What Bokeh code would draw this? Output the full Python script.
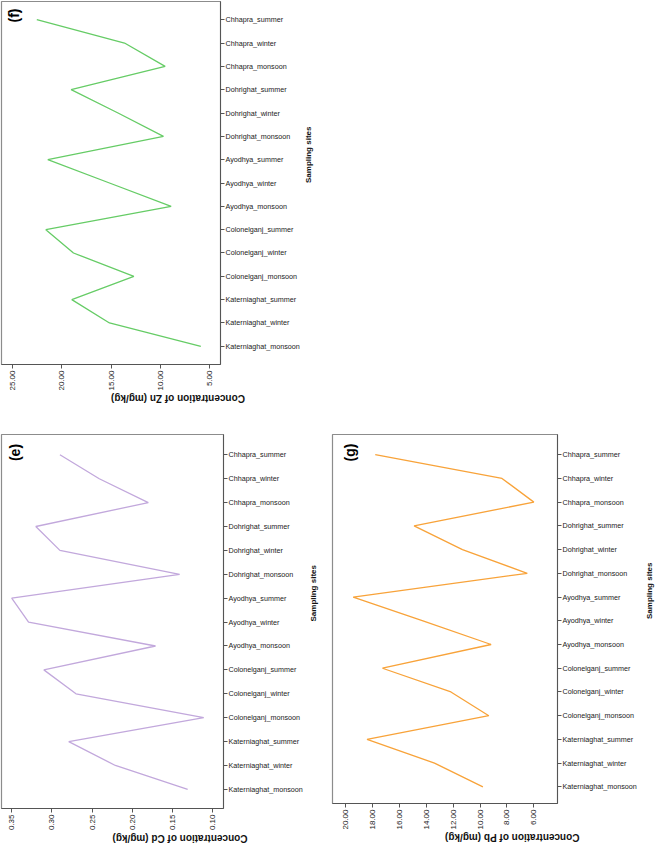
import math
from bokeh.plotting import figure
from bokeh.models import Range1d, FixedTicker, Label, PrintfTickFormatter
from bokeh.layouts import column, row
from bokeh.embed import file_html
from bokeh.resources import INLINE

sites = ["Chhapra_summer", "Chhapra_winter", "Chhapra_monsoon",
         "Dohrighat_summer", "Dohrighat_winter", "Dohrighat_monsoon",
         "Ayodhya_summer", "Ayodhya_winter", "Ayodhya_monsoon",
         "Colonelganj_summer", "Colonelganj_winter", "Colonelganj_monsoon",
         "Katerniaghat_summer", "Katerniaghat_winter", "Katerniaghat_monsoon"]

zn = [22.56, 13.64, 9.51, 19.07, 14.3, 9.68, 21.44, 15.17, 8.9,
      21.64, 18.83, 12.69, 19.0, 15.17, 5.88]
cd = [0.290, 0.241, 0.180, 0.320, 0.290, 0.141, 0.350, 0.329, 0.171,
      0.310, 0.270, 0.111, 0.279, 0.221, 0.131]
pb = [17.80, 8.37, 6.00, 14.91, 11.31, 6.49, 19.44, 14.25, 9.18,
      17.26, 12.17, 9.35, 18.41, 13.39, 9.79]

zn_ticks = [25, 20, 15, 10, 5]
cd_ticks = [0.35, 0.30, 0.25, 0.20, 0.15, 0.10]
pb_ticks = [20, 18, 16, 14, 12, 10, 8, 6]

FONT = "Liberation Sans"


def panel(values, ticks, xr, yr, color, xlabel, tag, tagpos, fw, fh, mb, ystand):
    idx = list(range(1, len(sites) + 1))
    p = figure(frame_width=fw, frame_height=fh,
               x_range=Range1d(*xr), y_range=Range1d(*yr),
               y_axis_location="right",
               output_backend="svg", toolbar_location=None,
               min_border_left=mb[0], min_border_top=mb[1],
               min_border_right=mb[2], min_border_bottom=mb[3],
               background_fill_color="white", border_fill_color="white",
               outline_line_color="#8c8c8c", outline_line_width=1.2)
    p.grid.visible = False
    p.line(values, idx, line_color=color, line_width=1.3)

    xa = p.xaxis[0]
    xa.ticker = FixedTicker(ticks=ticks)
    xa.formatter = PrintfTickFormatter(format="%.2f")
    xa.major_label_orientation = math.pi / 2
    xa.major_label_text_font = FONT
    xa.major_label_text_font_size = "8px"
    xa.major_label_text_color = "#222222"
    xa.major_label_standoff = 2
    xa.major_tick_in = 0
    xa.major_tick_out = 4
    xa.minor_tick_in = 0
    xa.minor_tick_out = 0
    xa.axis_line_color = "#555555"
    xa.major_tick_line_color = "#555555"
    xa.axis_label = xlabel
    xa.axis_label_orientation = math.pi
    xa.axis_label_text_font = FONT
    xa.axis_label_text_font_style = "bold"
    xa.axis_label_text_font_size = "10px"
    xa.axis_label_text_color = "#111111"
    xa.axis_label_standoff = 5

    ya = p.yaxis[0]
    ya.ticker = FixedTicker(ticks=idx)
    ya.major_label_overrides = {i: s for i, s in zip(idx, sites)}
    ya.major_label_text_font = FONT
    ya.major_label_text_font_size = "7.2px"
    ya.major_label_text_color = "#222222"
    ya.major_label_standoff = 1
    ya.major_tick_in = 0
    ya.major_tick_out = 4
    ya.minor_tick_in = 0
    ya.minor_tick_out = 0
    ya.axis_line_color = "#555555"
    ya.major_tick_line_color = "#555555"
    ya.axis_label = "Sampling sites"
    ya.axis_label_orientation = math.pi / 2
    ya.axis_label_text_font = FONT
    ya.axis_label_text_font_style = "bold"
    ya.axis_label_text_font_size = "8px"
    ya.axis_label_text_color = "#111111"
    ya.axis_label_standoff = ystand

    px_per_x = fw / abs(xr[0] - xr[1])
    px_per_y = fh / abs(yr[0] - yr[1])
    sgn = 1 if xr[0] > xr[1] else -1
    lx = xr[0] - sgn * tagpos[0] / px_per_x
    ly = yr[1] + tagpos[1] / px_per_y
    p.add_layout(Label(x=lx, y=ly, text=tag, angle=math.pi / 2,
                       text_align="center", text_baseline="middle",
                       text_font=FONT, text_font_style="bold",
                       text_font_size="14px", text_color="#000000"))
    return p


pf = panel(zn, zn_ticks, (26.15, 3.88), (15.78, 0.22), "#66cc66",
           "Concentration of Zn (mg/kg)", "(f)", (12, 14),
           219, 363, (1, 1, 92, 42), 6)
pe = panel(cd, cd_ticks, (0.3627, 0.0864), (15.8, 0.15), "#c2a8dc",
           "Concentration of Cd (mg/kg)", "(e)", (13, 18),
           222, 374, (1, 22, 104, 36), 8)
pg = panel(pb, pb_ticks, (20.98, 4.24), (15.7, 0.15), "#f8a33a",
           "Concentration of Pb (mg/kg)", "(g)", (17, 18),
           225, 369, (5, 19, 92, 42), 10)

layout = column(pf, row(pe, pg))
open("out.html", "w").write(file_html(layout, INLINE))
